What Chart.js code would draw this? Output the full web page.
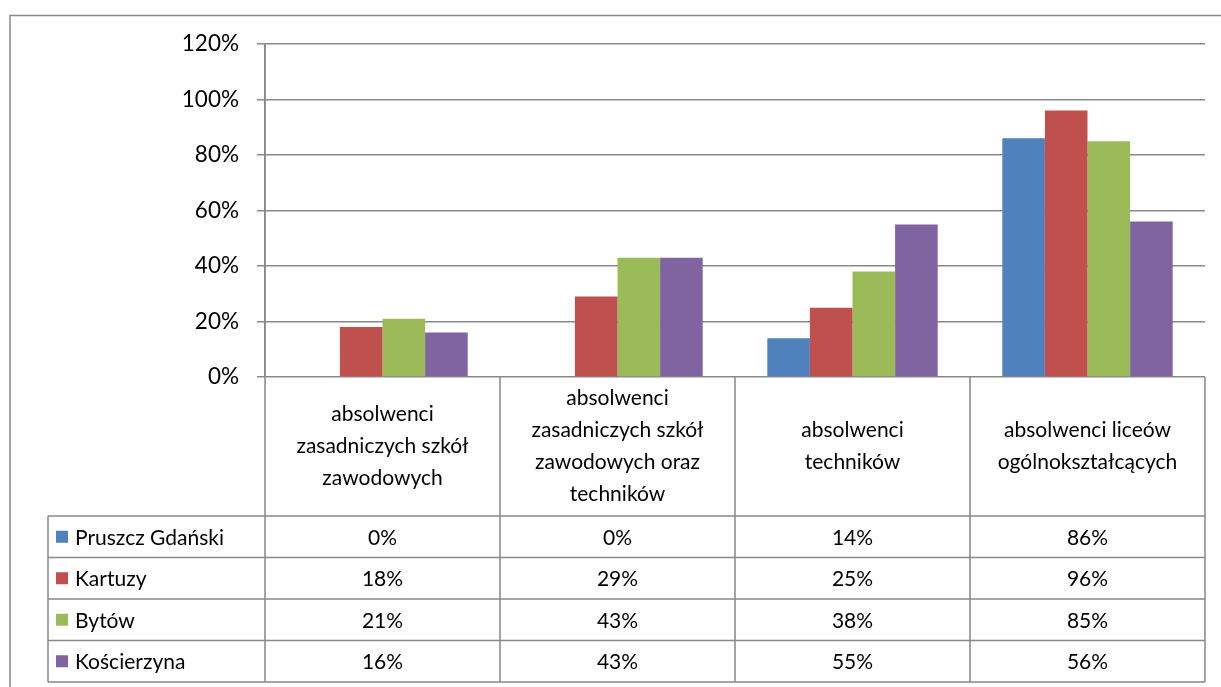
<!DOCTYPE html>
<html>
<head>
<meta charset="utf-8">
<script src="https://cdn.jsdelivr.net/npm/chart.js@4.4.1/dist/chart.umd.min.js"></script>
<style>
  html, body { margin: 0; padding: 0; background: #fff; }
  #wrap { width: 1221px; height: 687px; }
</style>
</head>
<body>
<div id="wrap"><canvas id="myChart" width="1221" height="687"></canvas></div>
<script>
const categories = [
    ['absolwenci', 'zasadniczych szkół', 'zawodowych'],
    ['absolwenci', 'zasadniczych szkół', 'zawodowych oraz', 'techników'],
    ['absolwenci', 'techników'],
    ['absolwenci liceów', 'ogólnokształcących']
];
const seriesNames = ['Pruszcz Gdański', 'Kartuzy', 'Bytów', 'Kościerzyna'];
const pruszcz = [0, 0, 14, 86];
const kartuzy = [18, 29, 25, 96];
const bytow = [21, 43, 38, 85];
const koscierzyna = [16, 43, 55, 56];
const yTicks = [0, 20, 40, 60, 80, 100, 120];
const colors = ['#4F81BD', '#C0504D', '#9BBB59', '#8064A2'];

const FONT = 'Lato, "Open Sans", sans-serif';
const LINE = '#888888';

// rows of the data table, drawn below the plot
const tablePlugin = {
    id: 'dataTable',
    afterDraw(chart) {
        const ctx = chart.ctx;
        const x = chart.scales.x;
        const area = chart.chartArea;
        const n = categories.length;
        const colW = (area.right - area.left) / n;
        const headTop = area.bottom;
        const headBottom = 516;
        const rowH = 41.5;
        const legendLeft = 48;
        const rows = chart.data.datasets;
        const tableBottom = headBottom + rowH * rows.length;

        ctx.save();
        ctx.strokeStyle = LINE;
        ctx.lineWidth = 1.5;

        // outer frame of the chart
        ctx.beginPath();
        ctx.moveTo(10, 687); ctx.lineTo(10, 15.5); ctx.lineTo(1221, 15.5);
        ctx.stroke();

        // verticals
        ctx.beginPath();
        for (let i = 0; i <= n; i++) {
            const vx = area.left + colW * i;
            ctx.moveTo(vx, i === 0 ? area.top : headTop);
            ctx.lineTo(vx, tableBottom);
        }
        ctx.moveTo(legendLeft, headBottom);
        ctx.lineTo(legendLeft, tableBottom);
        // horizontals
        for (let r = 0; r <= rows.length; r++) {
            const hy = headBottom + rowH * r;
            ctx.moveTo(legendLeft, hy);
            ctx.lineTo(area.right, hy);
        }
        ctx.stroke();

        ctx.fillStyle = '#000';
        ctx.font = '21px ' + FONT;
        ctx.textAlign = 'center';
        ctx.textBaseline = 'middle';

        // header: category names
        categories.forEach((lines, i) => {
            const cx = x.getPixelForValue(i);
            const lh = 32;
            const cy = (headTop + headBottom) / 2;
            lines.forEach((t, k) => {
                ctx.fillText(t, cx, cy + (k - (lines.length - 1) / 2) * lh);
            });
        });

        // series rows
        rows.forEach((ds, r) => {
            const cy = headBottom + rowH * r + rowH / 2;
            ctx.fillStyle = ds.backgroundColor;
            ctx.fillRect(56, cy - 6, 12, 12);
            ctx.fillStyle = '#000';
            ctx.textAlign = 'left';
            ctx.fillText(ds.label, 75, cy + 1);
            ctx.textAlign = 'center';
            ds.data.forEach((v, i) => {
                ctx.fillText(v + '%', x.getPixelForValue(i), cy + 1);
            });
        });
        ctx.restore();
    }
};

const seriesValues = [pruszcz, kartuzy, bytow, koscierzyna];

new Chart(document.getElementById('myChart').getContext('2d'), {
    type: 'bar',
    data: {
        labels: categories.map(c => c.join(' ')),
        datasets: seriesNames.map((name, i) => ({
            label: name,
            data: seriesValues[i],
            backgroundColor: colors[i],
            borderWidth: 0,
            categoryPercentage: 0.725,
            barPercentage: 1
        }))
    },
    options: {
        responsive: false,
        animation: false,
        layout: { padding: { top: 44, right: 16, bottom: 310, left: 0 } },
        plugins: {
            legend: { display: false },
            tooltip: { enabled: false }
        },
        scales: {
            x: { display: false },
            y: {
                min: 0,
                max: 120,
                afterFit(scale) { scale.width = 265; },
                afterBuildTicks(scale) { scale.ticks = yTicks.map(v => ({ value: v })); },
                ticks: {
                    color: '#000',
                    font: { family: FONT, size: 22.5 },
                    padding: 18,
                    callback: v => v + '%'
                },
                grid: { color: LINE, lineWidth: 1.5, tickLength: 8 },
                border: { color: LINE, width: 1.5 }
            }
        }
    },
    plugins: [tablePlugin]
});
</script>
</body>
</html>
